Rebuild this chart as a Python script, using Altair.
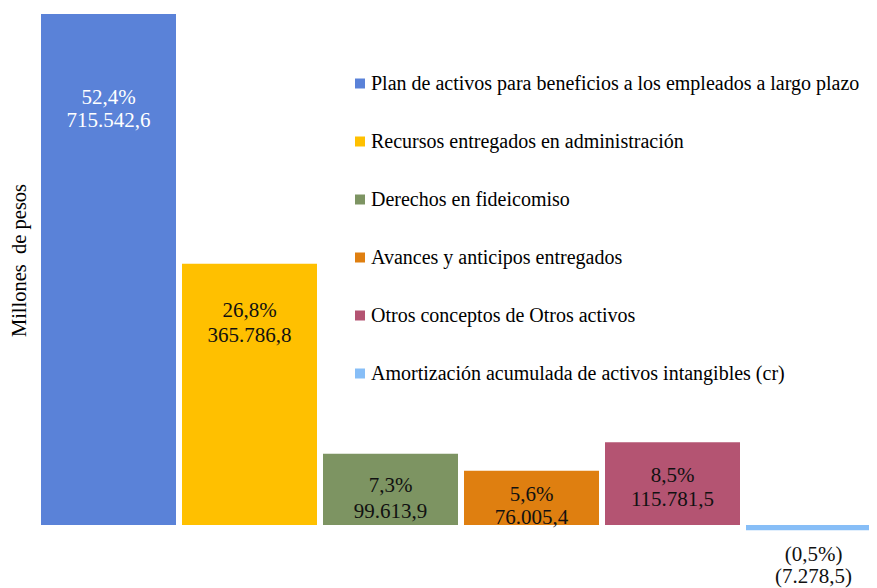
import altair as alt
import pandas as pd

# ---- data ----
categories = [
    "Plan de activos para beneficios a los empleados a largo plazo",
    "Recursos entregados en administración",
    "Derechos en fideicomiso",
    "Avances y anticipos entregados",
    "Otros conceptos de Otros activos",
    "Amortización acumulada de activos intangibles (cr)",
]
values = [715542.6, 365786.8, 99613.9, 76005.4, 115781.5, -7278.5]
colors = ["#5A82D8", "#FFC000", "#7D9462", "#DF7F10", "#B45472", "#87BEF7"]
y_title = "Millones\u00a0 de pesos"

# ---- style (label placement, pixels from the bar end) ----
label_dy = [83.5, 47.2, 32.6, 24.3, 33.7, 24.8]
line_gap = [23.8, 24.8, 25.2, 23.2, 24.0, 21.8]
label_colors = ["white", "#111111", "#111111", "#111111", "#111111", "#111111"]
FONT = "Liberation Serif"

total = sum(values)


def es_num(v):
    s = f"{abs(v):,.1f}"
    return s.replace(",", "X").replace(".", ",").replace("X", ".")


pct_labels = []
val_labels = []
for v in values:
    p = es_num(v / total * 100) + "%"
    n = es_num(v)
    if v < 0:
        p = f"({p})"
        n = f"({n})"
    pct_labels.append(p)
    val_labels.append(n)

df = pd.DataFrame({
    "cat": categories,
    "value": values,
    "pct": pct_labels,
    "num": val_labels,
})

x_scale = alt.Scale(range=[0, 846], paddingInner=0.0426, paddingOuter=0.0213)
y_scale = alt.Scale(domain=[-88200, 715542.6], nice=False, zero=True)

bars = alt.Chart(df).mark_bar().encode(
    x=alt.X("cat:N", sort=categories, axis=None, scale=x_scale),
    y=alt.Y(
        "value:Q",
        scale=y_scale,
        axis=alt.Axis(
            labels=False, ticks=False, domain=False, grid=False,
            title=y_title, titleFont=FONT, titleFontSize=20.5,
            titleFontWeight="normal", titleColor="black",
            titleAngle=270, titleAlign="center", titleBaseline="middle",
            titleX=-19, titleY=246,
        ),
    ),
    color=alt.Color(
        "cat:N",
        sort=categories,
        scale=alt.Scale(domain=categories, range=colors),
        legend=alt.Legend(
            orient="none", legendX=312, legendY=59.5, title=None,
            direction="vertical", symbolType="square", symbolSize=100,
            symbolStrokeWidth=0, labelFont=FONT, labelFontSize=20,
            labelColor="black", labelLimit=700, rowPadding=38,
            labelOffset=1, padding=0,
        ),
    ),
)

layers = [bars]
for i, c in enumerate(categories):
    sub = alt.Chart(df).transform_filter(alt.datum.cat == c)
    for j, field in enumerate(["pct", "num"]):
        layers.append(
            sub.mark_text(
                font=FONT, fontSize=21, color=label_colors[i],
                baseline="middle", align="center",
                dy=label_dy[i] + j * line_gap[i],
            ).encode(
                x=alt.X("cat:N", sort=categories, axis=None, scale=x_scale,
                        bandPosition=0.5),
                y=alt.Y("value:Q", scale=y_scale),
                text=f"{field}:N",
            )
        )

chart = alt.layer(*layers).properties(
    width=831,
    height=574,
    background="white",
    autosize=alt.AutoSizeParams(type="none"),
    padding={"left": 30, "top": 6, "right": 0, "bottom": 0},
).configure_view(stroke=None, strokeWidth=0)

chart.save("out.html", embed_options={"renderer": "svg", "actions": False})
